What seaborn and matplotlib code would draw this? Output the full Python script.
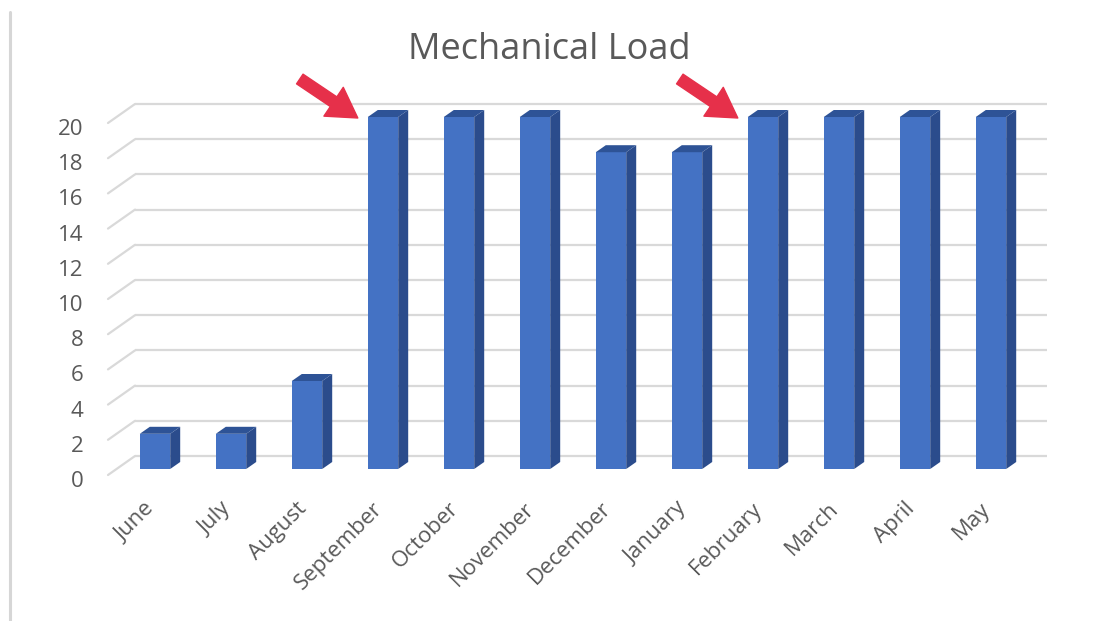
import matplotlib
matplotlib.use("Agg")
import matplotlib.pyplot as plt
import matplotlib.transforms as mtransforms
from matplotlib.patches import Polygon
from matplotlib.lines import Line2D
import seaborn as sns
import pandas as pd

# Monthly mechanical load
months = ["June", "July", "August", "September", "October", "November",
          "December", "January", "February", "March", "April", "May"]
load = [2, 2, 5, 20, 20, 20, 18, 18, 20, 20, 20, 20]
y_ticks = list(range(0, 21, 2))
highlight = ["September", "February"]
title = "Mechanical Load"

df = pd.DataFrame({"month": months, "load": load})

sns.set_theme(style="white")
plt.rcParams["font.family"] = ["Open Sans", "DejaVu Sans"]

W, H = 1104, 621
fig = plt.figure(figsize=(W / 100, H / 100), dpi=100)
fig.patch.set_facecolor("white")
ax = fig.add_axes([117 / W, (H - 469) / H, 912 / W, 352 / H])

front_c = "#4472C4"
side_c = "#2B4C8C"
top_c = "#2E5396"
grid_c = "#D9D9D9"
text_c = "#595959"
arrow_c = "#E6304A"

sns.barplot(data=df, x="month", y="load", order=months, color=front_c,
            saturation=1, width=0.4, ax=ax, zorder=3, linewidth=0)
ax.set_xlim(-0.5, len(months) - 0.5)
ax.set_ylim(0, 20)
ax.set_xlabel("")
ax.set_ylabel("")
for s in ax.spines.values():
    s.set_visible(False)
ax.set_facecolor("none")

# pixel -> data scale factors
bb = ax.get_window_extent()
px_x = (ax.get_xlim()[1] - ax.get_xlim()[0]) / bb.width
px_y = (ax.get_ylim()[1] - ax.get_ylim()[0]) / bb.height

# back wall grid and side-wall diagonals
back = mtransforms.offset_copy(ax.transData, fig=fig, x=18, y=13, units="dots")
ax.hlines(y_ticks, -0.5, len(months) - 0.5, transform=back, color=grid_c,
          lw=1.6, zorder=0, clip_on=False)
for v in y_ticks:
    ax.plot([-0.5 - 9 * px_x, -0.5 + 18 * px_x],
            [v - 6 * px_y, v + 13 * px_y], color=grid_c, lw=1.6,
            zorder=0, clip_on=False)

# depth faces of each bar
dx, dy = 10 * px_x, 7 * px_y
for p in ax.patches:
    x0, y0 = p.get_x(), p.get_y()
    x1, y1 = x0 + p.get_width(), y0 + p.get_height()
    side = Polygon([(x1, y0), (x1 + dx, y0 + dy), (x1 + dx, y1 + dy), (x1, y1)],
                   closed=True, facecolor=side_c, edgecolor="none",
                   zorder=3, clip_on=False)
    top = Polygon([(x0, y1), (x1, y1), (x1 + dx, y1 + dy), (x0 + dx, y1 + dy)],
                  closed=True, facecolor=top_c, edgecolor="none",
                  zorder=3, clip_on=False)
    ax.add_patch(side)
    ax.add_patch(top)

# ticks
ax.set_yticks(y_ticks)
ax.tick_params(axis="y", length=0, pad=24, labelsize=16, labelcolor=text_c)
shift = mtransforms.ScaledTranslation(0, -10 / 100, fig.dpi_scale_trans)
for lab in ax.get_yticklabels():
    lab.set_transform(lab.get_transform() + shift)

ax.tick_params(axis="x", length=0, pad=21, labelsize=16, labelcolor=text_c,
               rotation=45)
xshift = mtransforms.ScaledTranslation(4 / 100, 0, fig.dpi_scale_trans)
for lab in ax.get_xticklabels():
    lab.set_ha("right")
    lab.set_va("top")
    lab.set_transform(lab.get_transform() + xshift)

# title
fig.text(549 / W, 1 - 50 / H, title, ha="center", va="center",
         fontsize=26, color=text_c)

# arrows pointing at highlighted months
tip = mtransforms.offset_copy(ax.transData, fig=fig, x=-10, y=-1, units="dots")
for m in highlight:
    i = months.index(m)
    ax.annotate("", xy=(i - 0.2, load[i]), xycoords=tip,
                xytext=(-58, 39), textcoords="offset pixels",
                arrowprops=dict(arrowstyle="simple,head_length=1.05,head_width=1.25,tail_width=0.42",
                                color=arrow_c, mutation_scale=20,
                                shrinkA=0, shrinkB=0),
                zorder=5, annotation_clip=False)

# frame edge at the left
fig.add_artist(Line2D([9.5 / W, 9.5 / W], [0, 1 - 12 / H],
                      transform=fig.transFigure, color="#D6D6D6", lw=2.2))

fig.savefig("out.png", dpi=100, facecolor="white")
